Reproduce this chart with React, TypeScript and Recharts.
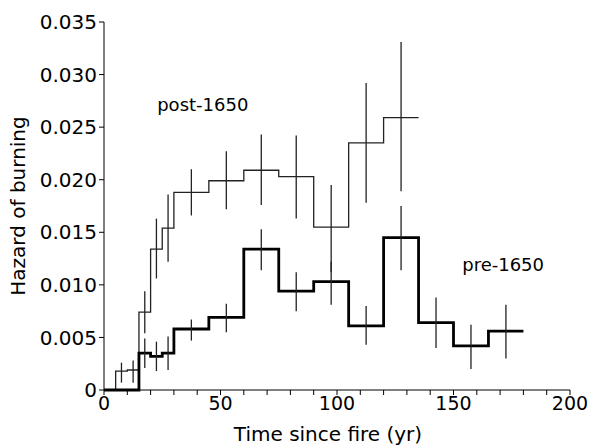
import {
  ComposedChart,
  Line,
  Scatter,
  ErrorBar,
  XAxis,
  YAxis,
  ReferenceDot,
} from 'recharts';

// bin edges (yr) and hazard of each bin, last edge repeats the last value to close the step
const postEdges = [0, 5, 10, 15, 20, 25, 30, 45, 60, 75, 90, 105, 120, 135];
const postHazard = [0, 0.0018, 0.0019, 0.0074, 0.0134, 0.0154, 0.0188, 0.0199, 0.0209, 0.0203, 0.0155, 0.0235, 0.0259, 0.0259];

const preEdges = [0, 15, 20, 25, 30, 45, 60, 75, 90, 105, 120, 135, 150, 165, 180];
const preHazard = [0, 0.0035, 0.0032, 0.0035, 0.0058, 0.0069, 0.0134, 0.0094, 0.0103, 0.0061, 0.0145, 0.0064, 0.0042, 0.0056, 0.0056];

// error bars at bin midpoints
const postMid = [7.5, 12.5, 17.5, 22.5, 27.5, 37.5, 52.5, 67.5, 82.5, 97.5, 112.5, 127.5];
const postLow = [0.0007, 0.0007, 0.0054, 0.0106, 0.0122, 0.0166, 0.0172, 0.0176, 0.0163, 0.0112, 0.0178, 0.0189];
const postHigh = [0.0026, 0.0028, 0.0094, 0.0163, 0.0186, 0.021, 0.0227, 0.0243, 0.0242, 0.0195, 0.0292, 0.0331];

const preMid = [17.5, 22.5, 27.5, 37.5, 52.5, 67.5, 82.5, 97.5, 112.5, 127.5, 142.5, 157.5, 172.5];
const preLow = [0.0021, 0.0018, 0.0019, 0.0047, 0.0055, 0.0114, 0.0075, 0.0081, 0.0043, 0.0114, 0.004, 0.002, 0.003];
const preHigh = [0.0049, 0.0046, 0.0051, 0.0067, 0.0082, 0.0153, 0.0112, 0.0122, 0.008, 0.0175, 0.0088, 0.0062, 0.0081];

const xTicks = [0, 10, 20, 30, 40, 50, 60, 70, 80, 90, 100, 110, 120, 130, 140, 150, 160, 170, 180, 190, 200];
const yTicks = [0, 0.005, 0.01, 0.015, 0.02, 0.025, 0.03, 0.035];

const notes = [
  { text: 'post-1650', x: 42.4, y: 0.0271 },
  { text: 'pre-1650', x: 171.3, y: 0.0119 },
];

const font = 'DejaVu Sans, sans-serif';

const steps = (edges: number[], vals: number[]) => edges.map((x, i) => ({ x, y: vals[i] }));
const bars = (mid: number[], low: number[], high: number[]) =>
  mid.map((x, i) => ({ x, y: low[i], err: [0, high[i] - low[i]] }));

const postData = steps(postEdges, postHazard);
const preData = steps(preEdges, preHazard);
const postBars = bars(postMid, postLow, postHigh);
const preBars = bars(preMid, preLow, preHigh);

const noDot = () => <g />;

const YTitle = ({ viewBox }: any) => {
  const cx = viewBox.x + 18;
  const cy = viewBox.y + viewBox.height / 2;
  return (
    <text
      x={cx}
      y={cy}
      transform={`rotate(-90, ${cx}, ${cy})`}
      textAnchor="middle"
      dominantBaseline="central"
      fontSize={20}
      fontFamily={font}
      fill="#000"
    >
      Hazard of burning
    </text>
  );
};

const XTitle = ({ viewBox }: any) => (
  <text
    x={viewBox.x + viewBox.width / 2 - 9}
    y={viewBox.y + viewBox.height + 20}
    textAnchor="middle"
    fontSize={20}
    fontFamily={font}
    fill="#000"
  >
    Time since fire (yr)
  </text>
);

export default function App() {
  return (
    <div style={{ position: 'absolute', left: 0, top: 0, fontFamily: font }}>
      <ComposedChart width={589} height={446} margin={{ top: 22, right: 19, bottom: 25, left: 0 }}>
        <XAxis
          type="number"
          dataKey="x"
          domain={[0, 200]}
          ticks={xTicks}
          interval={0}
          tickFormatter={(v: number) => (v % 50 === 0 ? String(v) : '')}
          tick={{ fontSize: 19, fill: '#000', fontFamily: font }}
          tickSize={5}
          tickMargin={2}
          height={31}
          stroke="#000"
          label={<XTitle />}
        />
        <YAxis
          type="number"
          domain={[0, 0.035]}
          ticks={yTicks}
          interval={0}
          tickFormatter={(v: number) => (v === 0 ? '0' : v.toFixed(3))}
          tick={{ fontSize: 20, fill: '#000', fontFamily: font }}
          tickSize={5}
          tickMargin={2}
          width={104}
          stroke="#000"
          label={<YTitle />}
        />
        <Line
          data={postData}
          dataKey="y"
          type="stepAfter"
          stroke="#222"
          strokeWidth={1.3}
          dot={false}
          isAnimationActive={false}
        />
        <Line
          data={preData}
          dataKey="y"
          type="stepAfter"
          stroke="#000"
          strokeWidth={2.8}
          dot={false}
          isAnimationActive={false}
        />
        <Scatter data={postBars} dataKey="y" shape={noDot} isAnimationActive={false}>
          <ErrorBar dataKey="err" direction="y" width={0} stroke="#222" strokeWidth={1.3} isAnimationActive={false} />
        </Scatter>
        <Scatter data={preBars} dataKey="y" shape={noDot} isAnimationActive={false}>
          <ErrorBar dataKey="err" direction="y" width={0} stroke="#222" strokeWidth={1.3} isAnimationActive={false} />
        </Scatter>
        {notes.map((n) => (
          <ReferenceDot
            key={n.text}
            x={n.x}
            y={n.y}
            r={0}
            fill="none"
            stroke="none"
            label={{ value: n.text, position: 'center', fontSize: 18, fill: '#000', fontFamily: font }}
          />
        ))}
      </ComposedChart>
    </div>
  );
}
